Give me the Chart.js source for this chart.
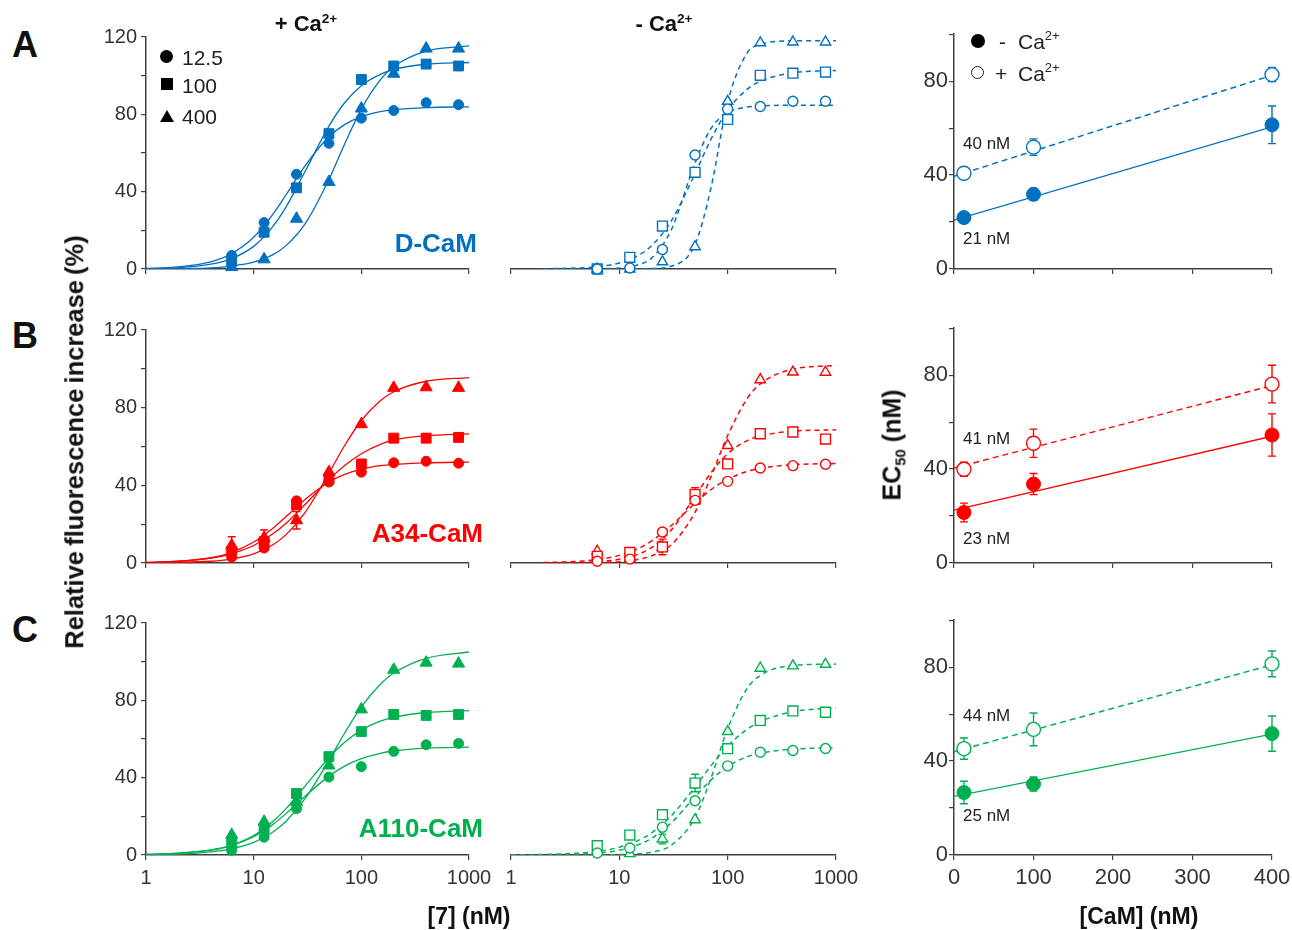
<!DOCTYPE html>
<html>
<head>
<meta charset="utf-8">
<script src="https://cdn.jsdelivr.net/npm/chart.js@4.4.1/dist/chart.umd.min.js"></script>
<style>
  body { margin: 0; background: #fff; }
  #fig { position: relative; width: 1292px; height: 930px; overflow: hidden; font-family: 'Liberation Sans', Arial, sans-serif; color: #111; }
  #fig canvas { position: absolute; z-index: 1; }
  .t { position: absolute; z-index: 2; white-space: nowrap; line-height: 1; transform: translate(-50%, -50%); }
  .b { font-weight: bold; }
  .r { transform: translate(-100%, -50%); }
  .l { transform: translate(0, -50%); }
  .mk { position: absolute; z-index: 2; box-sizing: content-box; }
  sup { font-size: 0.62em; vertical-align: 0.62em; line-height: 0; }
  sub { font-size: 0.6em; vertical-align: -0.3em; line-height: 0; }
  .nm { font-size: 17px; color: #222; }
</style>
</head>
<body>
<div id="fig">
  <div class="t b" style="left:25px;top:45px;font-size:36px">A</div>
  <div class="t b" style="left:25px;top:336px;font-size:36px">B</div>
  <div class="t b" style="left:25px;top:630px;font-size:36px">C</div>

  <div class="t b" style="left:306px;top:24px;font-size:22px">+ Ca<sup>2+</sup></div>
  <div class="t b" style="left:664px;top:24px;font-size:22px">- Ca<sup>2+</sup></div>

  <div class="mk" style="left:160px;top:50px;width:13px;height:13px;border-radius:50%;background:#000"></div>
  <div class="mk" style="left:161px;top:78px;width:12px;height:12px;background:#000"></div>
  <div class="mk" style="left:160px;top:110px;width:0;height:0;border-left:7px solid transparent;border-right:7px solid transparent;border-bottom:12px solid #000"></div>
  <div class="t l" style="left:182px;top:57px;font-size:21px;color:#222">12.5</div>
  <div class="t l" style="left:182px;top:85px;font-size:21px;color:#222">100</div>
  <div class="t l" style="left:182px;top:116px;font-size:21px;color:#222">400</div>

  <div class="mk" style="left:971px;top:34px;width:14px;height:14px;border-radius:50%;background:#000"></div>
  <div class="t l" style="left:999px;top:41px;font-size:21px;color:#222">-</div>
  <div class="t l" style="left:1018px;top:41px;font-size:21px;color:#222">Ca<sup>2+</sup></div>
  <div class="mk" style="left:971px;top:66px;width:11px;height:11px;border-radius:50%;border:1.5px solid #222"></div>
  <div class="t l" style="left:995px;top:73px;font-size:21px;color:#222">+</div>
  <div class="t l" style="left:1018px;top:73px;font-size:21px;color:#222">Ca<sup>2+</sup></div>

  <div class="t b r" style="left:477px;top:243px;font-size:26px;color:#0070C0">D-CaM</div>
  <div class="t b r" style="left:483px;top:533px;font-size:26px;color:#FF0000">A34-CaM</div>
  <div class="t b r" style="left:483px;top:828px;font-size:26px;color:#00B050">A110-CaM</div>

  <div class="t b" style="left:75px;top:442px;font-size:25.5px;word-spacing:-2px;transform:translate(-50%,-50%) rotate(-90deg)">Relative fluorescence increase (%)</div>
  <div class="t b" style="left:892px;top:445px;font-size:25px;transform:translate(-50%,-50%) rotate(-90deg)">EC<sub>50</sub> (nM)</div>
  <div class="t b" style="left:469px;top:916px;font-size:23px">[7] (nM)</div>
  <div class="t b" style="left:1139px;top:916px;font-size:23px">[CaM] (nM)</div>

  <div class="t l nm" style="left:963px;top:143px">40 nM</div>
  <div class="t l nm" style="left:963px;top:238px">21 nM</div>
  <div class="t l nm" style="left:963px;top:438px">41 nM</div>
  <div class="t l nm" style="left:963px;top:538px">23 nM</div>
  <div class="t l nm" style="left:963px;top:715px">44 nM</div>
  <div class="t l nm" style="left:963px;top:815px">25 nM</div>
</div>
<script>
// ---- axes ----
const xTicksLog = [1, 10, 100, 1000];
const yTicksPct = [0, 20, 40, 60, 80, 100, 120];
const yLabelsPct = [0, 40, 80, 120];
const xTicksCam = [0, 100, 200, 300, 400];
const yTicksEc = [0, 20, 40, 60, 80, 100];
const yLabelsEc = [0, 40, 80];

// ---- x values ----
const doseX = [6.25, 12.5, 25, 50, 100, 200, 400, 800];
const fitX = [1, 2, 4, 6, 10, 15, 20, 30, 50, 70, 100, 150, 200, 400, 1000];
const fitX2 = [2, 4, 6, 10, 15, 20, 30, 50, 70, 100, 150, 200, 400, 1000];
const camX = [12.5, 100, 400];
const camFitX = [0, 400];

// ---- A: D-CaM, + Ca2+ (CaM 12.5 / 100 / 400 nM) ----
const dPlus125 = [7, 24, 49, 65, 78, 82, 86, 85];
const dPlus100 = [4, 19, 42, 70, 98, 105, 106, 105];
const dPlus400 = [1, 5, 26, 45, 83, 101, 114, 114];
const dPlusFit125 = [0.3, 1.1, 3.7, 7.4, 16.4, 28.1, 38.4, 53.4, 68.4, 74.7, 78.8, 81.4, 82.4, 83.5, 83.9];
const dPlusFit100 = [0.2, 0.7, 2.5, 5.0, 11.7, 21.8, 32.1, 50.4, 73.9, 86.0, 94.8, 100.7, 103.2, 105.9, 106.8];
const dPlusFit400 = [0.05, 0.2, 0.6, 1.4, 3.5, 7.3, 12.1, 23.3, 46.3, 64.7, 82.7, 97.8, 104.7, 112.7, 115.4];
// ---- A: D-CaM, - Ca2+ ----
const dMinus125 = [0, 0.5, 10, 58.5, 82, 83.3, 86, 86];
const dMinus100 = [0, 6, 22, 49.6, 76.7, 99.3, 100.4, 101];
const dMinus400 = [0, 0, 3.7, 11.4, 86, 116, 116.4, 116.4];
const dMinusFit125 = [0, 0, 0.1, 0.5, 2.2, 5.8, 19.8, 54.4, 72, 80.1, 83, 83.6, 84, 84];
const dMinusFit100 = [0.1, 0.5, 1.1, 3.1, 7.0, 12.1, 24.4, 48.9, 66.4, 81.4, 92, 96.3, 100.6, 101.8];
const dMinusFit400 = [0, 0, 0, 0, 0.1, 0.2, 1.4, 12.6, 41.4, 85.6, 110.5, 115.1, 117, 117];
// ---- A: EC50 ----
const dEcPlus = [40.8, 51.9, 82.8];
const dEcPlusErr = [1.5, 3.5, 3];
const dEcMinus = [21.9, 31.8, 61.4];
const dEcMinusErr = [1.5, 2.5, 8];
const dEcPlusFit = [39.5, 82.5];
const dEcMinusFit = [20.8, 60.5];

// ---- B: A34-CaM, + Ca2+ ----
const a34Plus125 = [3, 7.7, 32, 41.7, 46.8, 51.6, 52.4, 51.4];
const a34Plus100 = [6, 11, 30, 43.4, 51, 64.3, 64.3, 64.7];
const a34Plus400 = [9, 13, 22, 46.8, 71.5, 90.2, 90.5, 90.2];
const a34Plus400Err = [4.5, 4, 4.5, 0, 0, 0, 0, 0];
const a34PlusFit125 = [0.3, 0.9, 2.7, 5.1, 10.8, 17.8, 23.9, 32.7, 41.7, 45.6, 48.3, 50.1, 50.8, 51.6, 52];
const a34PlusFit100 = [0.3, 0.9, 2.5, 4.5, 9.0, 14.9, 20.5, 30.1, 42.9, 50.2, 56.3, 61.1, 63.4, 65.5, 66.5];
const a34PlusFit400 = [0.1, 0.3, 0.9, 1.9, 4.7, 9.3, 14.6, 26, 46.2, 60.5, 73.4, 83.6, 88.2, 93.6, 95.5];
// ---- B: A34-CaM, - Ca2+ ----
const a34Minus125 = [0.9, 2, 15.8, 32, 41.7, 48.5, 49.7, 50.4];
const a34Minus100 = [3.4, 5.4, 8.2, 35, 50.6, 66, 66.9, 63.3];
const a34Minus100Err = [0, 0, 4, 3.5, 0, 0, 0, 0];
const a34Minus400 = [6, 2.5, 8.2, 31.8, 60, 93.6, 97.5, 97.4];
const a34MinusFit125 = [0.2, 0.8, 1.6, 3.9, 7.4, 11.4, 19.0, 30.5, 37.4, 42.8, 46.7, 48.3, 50.2, 50.8];
const a34MinusFit100 = [0.1, 0.3, 0.6, 1.9, 4.5, 8.0, 16.7, 34, 46, 55.8, 62.4, 64.9, 67.3, 68];
const a34MinusFit400 = [0, 0.1, 0.2, 0.7, 1.9, 3.7, 9.2, 25.9, 44, 65.1, 83.6, 91.5, 99, 100.8];
// ---- B: EC50 ----
const a34EcPlus = [39.9, 51, 76.2];
const a34EcPlusErr = [3, 6, 8];
const a34EcMinus = [21.5, 33.6, 54.5];
const a34EcMinusErr = [4, 4.5, 9];
const a34EcPlusFit = [40.5, 75.5];
const a34EcMinusFit = [22.5, 54];

// ---- C: A110-CaM, + Ca2+ ----
const a110Plus125 = [2.4, 9.2, 24, 40.3, 45.7, 53.6, 57, 57.7];
const a110Plus100 = [6, 13.8, 31.8, 50.9, 63.8, 72.7, 72.2, 72.7];
const a110Plus400 = [10.4, 17.2, 27.5, 46.3, 75.3, 95.8, 99.5, 99];
const a110PlusFit125 = [0.3, 0.9, 2.5, 4.6, 9.5, 15.7, 21.4, 30.4, 40.8, 46, 49.8, 52.6, 53.8, 55.3, 55.8];
const a110PlusFit100 = [0.3, 0.9, 2.6, 4.8, 10.1, 17.2, 24, 35.6, 50.3, 58.3, 64.6, 69.2, 71.2, 73.7, 74.7];
const a110PlusFit400 = [0.2, 0.5, 1.6, 3.0, 6.5, 11.8, 17.5, 29.1, 49, 63.1, 76.6, 88.3, 94.1, 101.7, 105];
// ---- C: A110-CaM, - Ca2+ ----
const a110Minus125 = [1, 3.6, 14.3, 27.8, 45.7, 52.7, 53.6, 54.6];
const a110Minus100 = [4.8, 10.2, 20.7, 36.9, 54.5, 69, 73.9, 73.2];
const a110Minus100Err = [0, 0, 0, 4.5, 0, 0, 0, 0];
const a110Minus400 = [2, 0.7, 8.2, 18.1, 63.3, 95.8, 97, 97.8];
const a110Minus400Err = [0, 0, 2.5, 0, 0, 0, 0, 0];
const a110MinusFit125 = [0, 0.1, 0.4, 0.9, 2.5, 5.3, 8.7, 16.4, 29.8, 38.4, 45.4, 50.3, 52.2, 54.3, 54.9];
const a110MinusFit100 = [0.1, 0.3, 0.9, 1.7, 4.0, 7.5, 11.5, 20, 34.9, 45.7, 55.8, 64.3, 68.4, 73.5, 75.5];
const a110MinusFit400 = [0, 0, 0, 0, 0.2, 0.6, 1.5, 4.9, 19.2, 39.3, 64.8, 85.1, 92.1, 97.2, 97.9];
// ---- C: EC50 ----
const a110EcPlus = [45.3, 53.5, 81.4];
const a110EcPlusErr = [4.5, 7, 5.5];
const a110EcMinus = [26.6, 30.2, 51.7];
const a110EcMinusErr = [4.8, 3, 7.5];
const a110EcPlusFit = [44, 81];
const a110EcMinusFit = [25, 51.5];

const BLUE = '#0070C0', RED = '#FF0000', GREEN = '#00B050';
const AXIS = '#404040';
const FONT = "'Liberation Sans', Arial, sans-serif";
const PAD = { left: 12, top: 14, right: 30, bottom: 14 };
const fig = document.getElementById('fig');

function xy(xs, ys) {
  return xs.map((x, i) => ({ x: x, y: ys[i] }));
}

function markers(xs, ys, color, style, radius, hollow, errs) {
  return {
    data: xy(xs, ys), showLine: false, pointStyle: style, pointRadius: radius,
    pointBackgroundColor: hollow ? '#fff' : color, pointBorderColor: color,
    pointBorderWidth: hollow ? 1.4 : 1, clip: false, errors: errs || null
  };
}

function fitLine(xs, ys, color, dashed) {
  return {
    data: xy(xs, ys), showLine: true, pointRadius: 0, borderColor: color,
    borderWidth: dashed ? 1.5 : 1.3, borderDash: dashed ? [5, 4] : [],
    cubicInterpolationMode: 'monotone', fill: false
  };
}

// error bars, drawn through the chart scales under the markers
const errorBars = {
  id: 'errorBars',
  beforeDatasetsDraw(chart) {
    const ctx = chart.ctx, sx = chart.scales.x, sy = chart.scales.y;
    chart.data.datasets.forEach(ds => {
      if (!ds.errors) return;
      ctx.save();
      ctx.strokeStyle = ds.pointBorderColor;
      ctx.lineWidth = 1.4;
      ds.data.forEach((p, i) => {
        const e = ds.errors[i];
        if (!e) return;
        const px = sx.getPixelForValue(p.x);
        const y1 = sy.getPixelForValue(p.y + e), y2 = sy.getPixelForValue(p.y - e);
        ctx.beginPath();
        ctx.moveTo(px, y1); ctx.lineTo(px, y2);
        ctx.moveTo(px - 4, y1); ctx.lineTo(px + 4, y1);
        ctx.moveTo(px - 4, y2); ctx.lineTo(px + 4, y2);
        ctx.stroke();
      });
      ctx.restore();
    });
  }
};

const grid = { drawOnChartArea: false, drawTicks: true, tickLength: 5, color: AXIS, lineWidth: 1.2 };
const border = { display: true, color: AXIS, width: 1.5 };

function logX(labels) {
  return {
    type: 'logarithmic', min: 1, max: 1000,
    afterBuildTicks: s => { s.ticks = xTicksLog.map(v => ({ value: v })); },
    afterFit: s => { s.height = labels ? 34 : 8; },
    ticks: { display: labels, color: '#333', font: { size: 20, family: FONT }, padding: 6,
      maxRotation: 0, autoSkip: false, callback: v => String(v) },
    grid: grid, border: border
  };
}

function pctY(show) {
  return {
    display: show, min: 0, max: 120,
    afterBuildTicks: s => { s.ticks = yTicksPct.map(v => ({ value: v })); },
    afterFit: s => { s.width = show ? 50 : 0; },
    ticks: { color: '#333', font: { size: 20, family: FONT }, padding: 4,
      callback: v => (yLabelsPct.includes(v) ? String(v) : '') },
    grid: grid, border: border
  };
}

function camXAxis(labels) {
  return {
    type: 'linear', min: 0, max: 400,
    afterBuildTicks: s => { s.ticks = xTicksCam.map(v => ({ value: v })); },
    afterFit: s => { s.height = labels ? 34 : 8; },
    ticks: { display: labels, color: '#333', font: { size: 22, family: FONT }, padding: 5,
      maxRotation: 0, autoSkip: false, callback: v => String(v) },
    grid: grid, border: border
  };
}

function ecY() {
  return {
    min: 0, max: 100,
    afterBuildTicks: s => { s.ticks = yTicksEc.map(v => ({ value: v })); },
    afterFit: s => { s.width = 50; },
    ticks: { color: '#333', font: { size: 22, family: FONT }, padding: 1,
      callback: v => (yLabelsEc.includes(v) ? String(v) : '') },
    grid: grid, border: border
  };
}

function panel(area, yw, xh, scales, datasets) {
  const c = document.createElement('canvas');
  const W = PAD.left + yw + area.w + PAD.right;
  const H = PAD.top + area.h + xh + PAD.bottom;
  c.width = W; c.height = H;
  c.style.width = W + 'px'; c.style.height = H + 'px';
  c.style.left = (area.l - PAD.left - yw) + 'px';
  c.style.top = (area.t - PAD.top) + 'px';
  fig.appendChild(c);
  new Chart(c, {
    type: 'scatter',
    data: { datasets: datasets },
    options: {
      responsive: false, animation: false, devicePixelRatio: 1, events: [],
      layout: { padding: PAD },
      plugins: { legend: { display: false }, tooltip: { enabled: false } },
      scales: scales
    },
    plugins: [errorBars]
  });
}

function plusPanel(area, last, color, s125, s100, s400, f125, f100, f400, e125, e100, e400) {
  panel(area, 50, last ? 34 : 8, { x: logX(last), y: pctY(true) }, [
    markers(doseX, s125, color, 'circle', 5, false, e125),
    markers(doseX, s100, color, 'rect', 7, false, e100),
    markers(doseX, s400, color, 'triangle', 7, false, e400),
    fitLine(fitX, f125, color, false),
    fitLine(fitX, f100, color, false),
    fitLine(fitX, f400, color, false)
  ]);
}

function minusPanel(area, last, color, fx, s125, s100, s400, f125, f100, f400, e125, e100, e400) {
  panel(area, 0, last ? 34 : 8, { x: logX(last), y: pctY(false) }, [
    markers(doseX, s125, color, 'circle', 5, true, e125),
    markers(doseX, s100, color, 'rect', 7, true, e100),
    markers(doseX, s400, color, 'triangle', 6, true, e400),
    fitLine(fx, f125, color, true),
    fitLine(fx, f100, color, true),
    fitLine(fx, f400, color, true)
  ]);
}

function ecPanel(area, last, color, plus, plusErr, minus, minusErr, plusFit, minusFit) {
  panel(area, 50, last ? 34 : 8, { x: camXAxis(last), y: ecY() }, [
    markers(camX, minus, color, 'circle', 7, false, minusErr),
    markers(camX, plus, color, 'circle', 7, true, plusErr),
    fitLine(camFitX, minusFit, color, false),
    Object.assign(fitLine(camFitX, plusFit, color, true), { borderDash: [6, 4] })
  ]);
}

// row A
plusPanel({ l: 146, t: 35, w: 323, h: 234 }, false, BLUE,
  dPlus125, dPlus100, dPlus400, dPlusFit125, dPlusFit100, dPlusFit400);
minusPanel({ l: 511, t: 35, w: 325, h: 234 }, false, BLUE, fitX2,
  dMinus125, dMinus100, dMinus400, dMinusFit125, dMinusFit100, dMinusFit400);
ecPanel({ l: 954, t: 34, w: 318, h: 235 }, false, BLUE,
  dEcPlus, dEcPlusErr, dEcMinus, dEcMinusErr, dEcPlusFit, dEcMinusFit);

// row B
plusPanel({ l: 146, t: 328, w: 323, h: 235 }, false, RED,
  a34Plus125, a34Plus100, a34Plus400, a34PlusFit125, a34PlusFit100, a34PlusFit400,
  null, null, a34Plus400Err);
minusPanel({ l: 511, t: 328, w: 325, h: 235 }, false, RED, fitX2,
  a34Minus125, a34Minus100, a34Minus400, a34MinusFit125, a34MinusFit100, a34MinusFit400,
  null, a34Minus100Err, null);
ecPanel({ l: 954, t: 328, w: 318, h: 235 }, false, RED,
  a34EcPlus, a34EcPlusErr, a34EcMinus, a34EcMinusErr, a34EcPlusFit, a34EcMinusFit);

// row C
plusPanel({ l: 146, t: 621, w: 323, h: 234 }, true, GREEN,
  a110Plus125, a110Plus100, a110Plus400, a110PlusFit125, a110PlusFit100, a110PlusFit400);
minusPanel({ l: 511, t: 621, w: 325, h: 234 }, true, GREEN, fitX,
  a110Minus125, a110Minus100, a110Minus400, a110MinusFit125, a110MinusFit100, a110MinusFit400,
  null, a110Minus100Err, a110Minus400Err);
ecPanel({ l: 954, t: 620, w: 318, h: 235 }, true, GREEN,
  a110EcPlus, a110EcPlusErr, a110EcMinus, a110EcMinusErr, a110EcPlusFit, a110EcMinusFit);
</script>
</body>
</html>
